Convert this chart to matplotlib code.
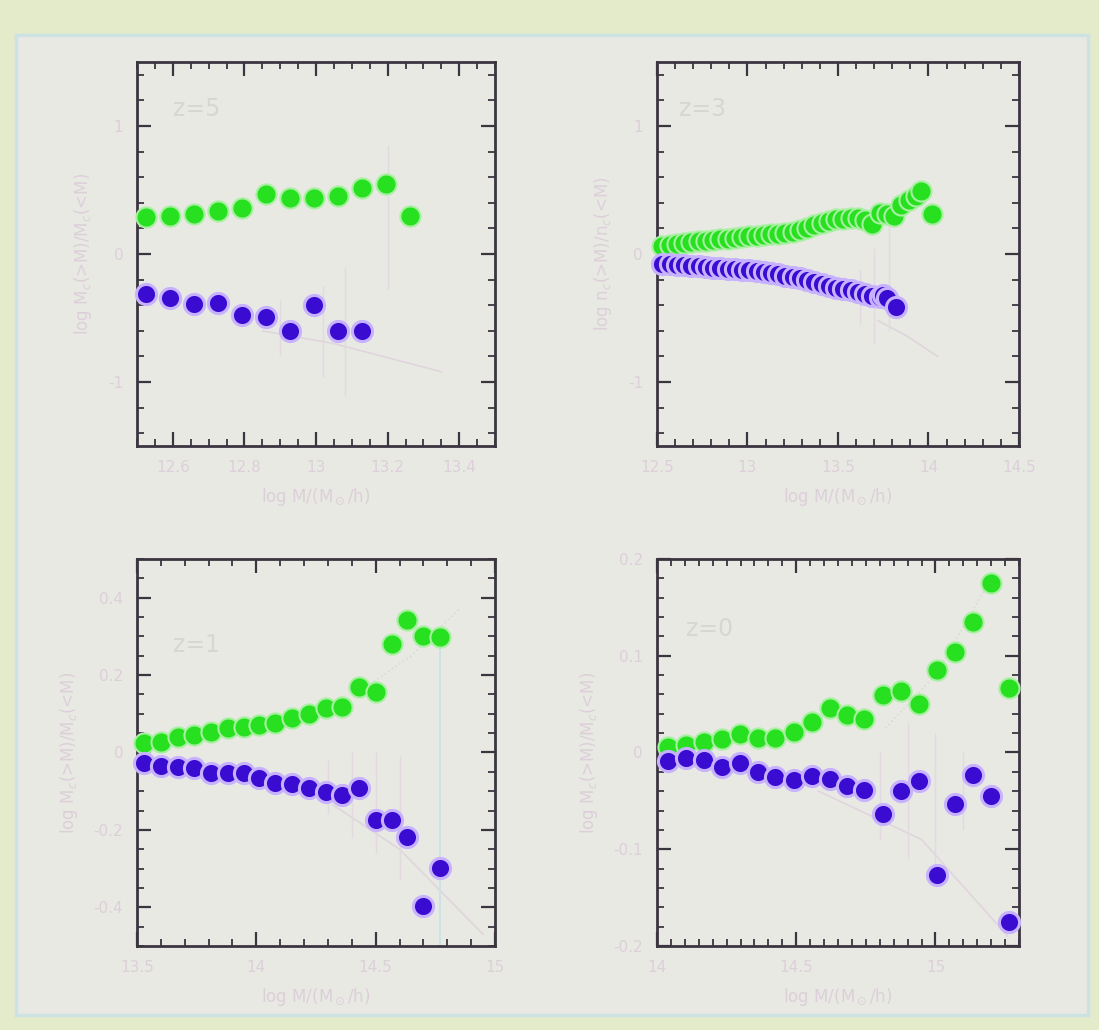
import matplotlib
matplotlib.use('Agg')
import matplotlib.pyplot as plt
from matplotlib.patches import Rectangle
from matplotlib.ticker import MultipleLocator

# цвета
GREEN = '#27e01f'
BLUE = '#3a0bd0'
GLOW = '#c7b2ff'
FAINT = '#dccfd9'
SPINE = '#3b3540'
BG = '#e9e9e4'

# ---- z=5 ----
x_z5 = [12.525, 12.592, 12.659, 12.726, 12.793, 12.86, 12.927, 12.994, 13.061, 13.128, 13.195, 13.262]
green_z5 = [0.290, 0.298, 0.316, 0.336, 0.362, 0.471, 0.440, 0.440, 0.453, 0.512, 0.543, 0.298]
blue_z5 = [-0.316, -0.344, -0.388, -0.383, -0.473, -0.491, -0.603, -0.396, -0.603, -0.603]

# ---- z=3 ----
x_z3_g = [12.53, 12.57, 12.61, 12.65, 12.69, 12.73, 12.77, 12.81, 12.85, 12.89, 12.93, 12.97,
          13.01, 13.05, 13.09, 13.13, 13.17, 13.21, 13.25, 13.29, 13.33, 13.37, 13.41, 13.45,
          13.49, 13.53, 13.57, 13.61, 13.65, 13.69, 13.73, 13.77, 13.81, 13.85, 13.89, 13.93,
          13.96, 14.02]
green_z3 = [0.066, 0.072, 0.078, 0.085, 0.093, 0.099, 0.104, 0.110, 0.116, 0.121, 0.127, 0.132,
            0.138, 0.143, 0.149, 0.155, 0.160, 0.166, 0.173, 0.185, 0.200, 0.225, 0.245, 0.258,
            0.270, 0.276, 0.282, 0.280, 0.262, 0.236, 0.322, 0.315, 0.300, 0.380, 0.420, 0.455,
            0.492, 0.312]
x_z3_b = [12.53, 12.57, 12.61, 12.65, 12.69, 12.73, 12.77, 12.81, 12.85, 12.89, 12.93, 12.97,
          13.01, 13.05, 13.09, 13.13, 13.17, 13.21, 13.25, 13.29, 13.33, 13.37, 13.41, 13.45,
          13.49, 13.53, 13.57, 13.61, 13.65, 13.69, 13.73, 13.75, 13.77, 13.82]
blue_z3 = [-0.076, -0.080, -0.084, -0.088, -0.092, -0.097, -0.101, -0.106, -0.110, -0.115, -0.120, -0.124,
           -0.128, -0.135, -0.143, -0.152, -0.160, -0.168, -0.180, -0.190, -0.205, -0.220, -0.232, -0.247,
           -0.262, -0.272, -0.285, -0.298, -0.310, -0.325, -0.338, -0.318, -0.345, -0.412]

# ---- z=1 ----
x_z1 = [13.53, 13.60, 13.67, 13.74, 13.81, 13.88, 13.95, 14.01, 14.08, 14.15, 14.22, 14.29,
        14.36, 14.43, 14.50, 14.57, 14.63, 14.70, 14.77]
green_z1 = [0.024, 0.028, 0.039, 0.045, 0.053, 0.062, 0.066, 0.071, 0.077, 0.090, 0.099, 0.114,
            0.118, 0.169, 0.156, 0.281, 0.342, 0.302, 0.298]
blue_z1 = [-0.027, -0.035, -0.037, -0.040, -0.053, -0.053, -0.053, -0.066, -0.078, -0.081, -0.091, -0.102,
           -0.109, -0.091, -0.174, -0.174, -0.219, -0.397, -0.298]

# ---- z=0 ----
x_z0 = [14.040, 14.106, 14.169, 14.235, 14.299, 14.361, 14.425, 14.492, 14.558, 14.622,
        14.682, 14.745, 14.811, 14.875, 14.941, 15.006, 15.070, 15.136, 15.200, 15.263]
green_z0 = [0.006, 0.008, 0.011, 0.014, 0.019, 0.015, 0.015, 0.021, 0.032, 0.046,
            0.039, 0.035, 0.059, 0.064, 0.050, 0.085, 0.104, 0.135, 0.175, 0.067]
blue_z0 = [-0.009, -0.006, -0.008, -0.015, -0.011, -0.020, -0.025, -0.028, -0.024, -0.027,
           -0.035, -0.039, -0.064, -0.040, -0.030, -0.127, -0.053, -0.023, -0.045, -0.175]

# бледные модельные кривые (едва видны на слайде)
model_x = {0: [12.85, 13.05, 13.35], 1: [13.72, 13.88, 14.05], 2: [14.32, 14.6, 14.95], 3: [14.58, 14.95, 15.26]}
model_y = {0: [-0.60, -0.70, -0.92], 1: [-0.52, -0.64, -0.80], 2: [-0.135, -0.25, -0.47], 3: [-0.04, -0.09, -0.19]}
model_up_x = {2: [14.43, 14.65, 14.85], 3: [14.82, 15.0, 15.2]}
model_up_y = {2: [0.157, 0.25, 0.371], 3: [0.025, 0.08, 0.18]}

# бледные погрешности
err_x = {0: [12.9, 13.02, 13.08, 13.2], 1: [13.62, 13.7, 13.78], 2: [14.3, 14.4, 14.5, 14.6], 3: [14.8, 14.9, 15.0, 15.1]}
err_lo = {0: [-0.80, -0.96, -1.11, -0.28], 1: [-0.55, -0.70, -0.60], 2: [-0.16, -0.22, -0.26, -0.33], 3: [-0.09, -0.11, -0.12, -0.08]}
err_hi = {0: [-0.36, -0.25, -0.10, 0.85], 1: [-0.12, 0.05, 0.30], 2: [-0.02, 0.00, 0.00, -0.01], 3: [0.00, 0.03, 0.02, 0.0]}

panels = [
    dict(xg=x_z5, g=green_z5, xb=x_z5[:len(blue_z5)], b=blue_z5, xlim=(12.5, 13.5), ylim=(-1.5, 1.5),
         xmin=0.05, ymin=0.2, xt=[12.6, 12.8, 13.0, 13.2, 13.4], xtl=['12.6', '12.8', '13', '13.2', '13.4'],
         yt=[-1, 0, 1], ytl=['-1', '0', '1'], lab='z=5', lab_xy=(0.1, 0.86),
         ylabel='log M$_c$(>M)/M$_c$(<M)', pos=[0.1247, 0.567, 0.3257, 0.3728]),
    dict(xg=x_z3_g, g=green_z3, xb=x_z3_b, b=blue_z3, xlim=(12.5, 14.5), ylim=(-1.5, 1.5),
         xmin=0.1, ymin=0.2, xt=[12.5, 13, 13.5, 14, 14.5], xtl=['12.5', '13', '13.5', '14', '14.5'],
         yt=[-1, 0, 1], ytl=['-1', '0', '1'], lab='z=3', lab_xy=(0.06, 0.86),
         ylabel='log n$_c$(>M)/n$_c$(<M)', pos=[0.5978, 0.567, 0.3294, 0.3728]),
    dict(xg=x_z1, g=green_z1, xb=x_z1, b=blue_z1, xlim=(13.5, 15.0), ylim=(-0.5, 0.5),
         xmin=0.1, ymin=0.05, xt=[13.5, 14, 14.5, 15], xtl=['13.5', '14', '14.5', '15'],
         yt=[-0.4, -0.2, 0, 0.2, 0.4], ytl=['-0.4', '-0.2', '0', '0.2', '0.4'], lab='z=1', lab_xy=(0.1, 0.76),
         ylabel='log M$_c$(>M)/M$_c$(<M)', pos=[0.1247, 0.0816, 0.3257, 0.3757]),
    dict(xg=x_z0, g=green_z0, xb=x_z0, b=blue_z0, xlim=(14.0, 15.3), ylim=(-0.2, 0.2),
         xmin=0.05, ymin=0.02, xt=[14, 14.5, 15], xtl=['14', '14.5', '15'],
         yt=[-0.2, -0.1, 0, 0.1, 0.2], ytl=['-0.2', '-0.1', '0', '0.1', '0.2'], lab='z=0', lab_xy=(0.08, 0.8),
         ylabel='log M$_c$(>M)/M$_c$(<M)', pos=[0.5978, 0.0816, 0.3294, 0.3757]),
]

fig = plt.figure(figsize=(10.99, 10.30), dpi=100, facecolor='#e4ebcb')
frame = Rectangle((16 / 1099, 15 / 1030), 1072 / 1099, 980 / 1030, transform=fig.transFigure,
                  facecolor=BG, edgecolor='#cde2e2', linewidth=2.5, zorder=-10)
fig.add_artist(frame)

for i, p in enumerate(panels):
    ax = fig.add_axes(p['pos'])
    ax.set_facecolor(BG)

    # бледные линии модели и погрешности
    ax.plot(model_x[i], model_y[i], color='#e0d5dd', lw=1.2, zorder=1)
    if i in model_up_x:
        ax.plot(model_up_x[i], model_up_y[i], color='#d6dcd6', lw=1.2, ls=':', zorder=1)
    ax.vlines(err_x[i], err_lo[i], err_hi[i], color='#e3d9e0', lw=1, zorder=1)
    if i == 2:
        ax.vlines([14.77], -0.5, 0.28, color='#c6e2e8', lw=1.2, zorder=1)

    ax.plot(p['xg'], p['g'], 'o', ms=14.5, color=GREEN, mec='#a6f0a0', mew=1.5, zorder=3, clip_on=False)
    ax.plot(p['xb'], p['b'], 'o', ms=14.5, color=BLUE, mec=GLOW, mew=2.2, zorder=3, clip_on=False)

    ax.set_xlim(*p['xlim'])
    ax.set_ylim(*p['ylim'])
    ax.xaxis.set_minor_locator(MultipleLocator(p['xmin']))
    ax.yaxis.set_minor_locator(MultipleLocator(p['ymin']))
    ax.set_xticks(p['xt'])
    ax.set_xticklabels(p['xtl'])
    ax.set_yticks(p['yt'])
    ax.set_yticklabels(p['ytl'])
    ax.tick_params(which='both', direction='in', top=True, right=True, color=SPINE,
                   labelcolor=FAINT, labelsize=11)
    ax.tick_params(which='major', length=10, width=1.6, pad=10)
    ax.tick_params(which='minor', length=5, width=1.3)
    for s in ax.spines.values():
        s.set_color(SPINE)
        s.set_linewidth(2)

    ax.set_xlabel('log M/(M$_\\odot$/h)', color=FAINT, fontsize=12, labelpad=8)
    ax.set_ylabel(p['ylabel'], color=FAINT, fontsize=12, labelpad=10)
    ax.text(p['lab_xy'][0], p['lab_xy'][1], p['lab'], transform=ax.transAxes,
            color='#d6d6d2', fontsize=17)

plt.savefig('out.png', dpi=100, facecolor=fig.get_facecolor())
